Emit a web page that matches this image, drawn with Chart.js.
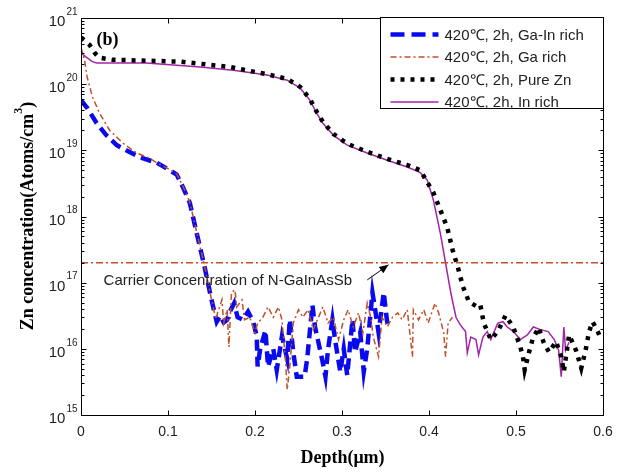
<!DOCTYPE html>
<html>
<head>
<meta charset="utf-8">
<script src="https://cdn.jsdelivr.net/npm/chart.js@4.4.0/dist/chart.umd.min.js"></script>
<style>
  html, body { margin: 0; padding: 0; background: #fff; }
</style>
</head>
<body>
<canvas id="zn-chart" width="625" height="472"></canvas>
<script>
//
// Zn diffusion depth profiles (420℃, 2h) for four source compositions.
//

const seriesLabels = ['420℃, 2h, Ga-In rich', '420℃, 2h, Ga rich', '420℃, 2h, Pure Zn', '420℃, 2h, In rich']

// Ga-In rich (blue dashed)
const gaInDepth = [0, 0.007, 0.018, 0.029, 0.041, 0.052, 0.067, 0.087, 0.102, 0.11, 0.117, 0.125, 0.133, 0.142, 0.15,
    0.156, 0.16, 0.164, 0.168, 0.171, 0.176, 0.18, 0.186, 0.192, 0.198, 0.202, 0.203, 0.206, 0.212, 0.215, 0.221,
    0.225, 0.231, 0.237, 0.24, 0.244, 0.248, 0.252, 0.257, 0.26, 0.266, 0.269, 0.273, 0.277, 0.281, 0.284, 0.289,
    0.292, 0.298, 0.302, 0.306, 0.312, 0.315, 0.321, 0.325, 0.329, 0.335, 0.338, 0.342, 0.348, 0.351, 0.353]
const gaInConc = [5.75e19, 4.4e19, 2.57e19, 1.7e19, 1.2e19, 1.0e19, 7.9e18, 6.5e18, 5.0e18, 4.3e18, 2.8e18, 1.62e18, 5.6e17, 1.74e17, 5.5e16,
    2.57e16, 3.16e16, 2.51e16, 2.75e16, 3.63e16, 4.9e16, 3.0e16, 2.75e16, 3.63e16, 2.57e16, 1.55e16, 5.4e15, 1.0e16, 1.9e16, 5.4e15, 1.0e16,
    4.8e15, 1.55e16, 7.1e15, 2.75e16, 8.9e15, 3.8e15, 3.8e15, 3.8e15, 7.1e15, 4.6e16, 2.14e16, 1.23e16, 7.1e15, 3.8e15, 1.0e16, 2.75e16,
    1.38e16, 4.5e15, 1.0e16, 4.0e15, 2.75e16, 8.9e15, 1.78e16, 4.5e15, 1.0e16, 7.1e16, 4.0e16, 1.78e16, 7.1e16, 3.16e16, 2.0e16]

// Ga rich (brown dash-dot)
const gaDepth = [0, 0.004, 0.007, 0.013, 0.021, 0.033, 0.048, 0.064, 0.079, 0.087, 0.102, 0.11, 0.117, 0.125, 0.133, 0.142, 0.15, 0.155,
    0.157, 0.162, 0.164, 0.168, 0.17, 0.173, 0.177, 0.179, 0.185, 0.188, 0.194, 0.2, 0.203, 0.209, 0.215, 0.221, 0.227, 0.231,
    0.235, 0.237, 0.24, 0.244, 0.25, 0.255, 0.261, 0.267, 0.273, 0.278, 0.284, 0.29, 0.296, 0.302, 0.307, 0.313, 0.319, 0.324,
    0.329, 0.333, 0.336, 0.342, 0.346, 0.352, 0.358, 0.364, 0.369, 0.375, 0.381, 0.382, 0.388, 0.394, 0.399, 0.407, 0.411, 0.417,
    0.419, 0.422, 0.427]
const gaConc = [3.6e20, 2.34e20, 1.29e20, 6.5e19, 3.7e19, 2.0e19, 1.29e19, 9.1e18, 7.6e18, 6.5e18, 5.1e18, 4.4e18, 2.9e18, 1.66e18, 5.8e17, 1.78e17, 5.6e16, 2.8e16,
    3.5e16, 5.5e16, 2.45e16, 3.9e16, 1.07e16, 7.1e16, 7.8e16, 4.3e16, 5.5e16, 2.75e16, 3.0e16, 1.74e16, 2.45e16, 3.0e16, 4.3e16, 3.0e16, 4.3e16, 2.75e16,
    6.8e15, 2.4e15, 5.4e15, 2.45e16, 3.9e16, 3.0e16, 3.9e16, 1.95e16, 3.0e16, 4.3e16, 2.45e16, 3.0e16, 1.38e16, 2.75e16, 3.9e16, 2.14e16, 3.5e16, 1.74e16,
    4.9e16, 3.0e16, 1.51e16, 7.6e15, 3.0e16, 2.14e16, 3.0e16, 3.5e16, 2.75e16, 3.9e16, 7.6e15, 3.9e16, 2.75e16, 3.9e16, 2.45e16, 4.9e16, 3.5e16, 1.74e16,
    7.6e15, 2.45e16, 3.0e16]

// Pure Zn (black dotted)
const pureZnDepth = [0, 0.01, 0.016, 0.021, 0.036, 0.114, 0.171, 0.214, 0.237, 0.252, 0.263, 0.271, 0.278, 0.29, 0.306, 0.329, 0.352,
    0.375, 0.39, 0.398, 0.405, 0.413, 0.421, 0.427, 0.433, 0.439, 0.446, 0.456, 0.459, 0.463, 0.471, 0.479, 0.488, 0.497, 0.505,
    0.508, 0.51, 0.515, 0.519, 0.526, 0.532, 0.538, 0.546, 0.552, 0.555, 0.561, 0.569, 0.575, 0.58, 0.584, 0.588, 0.594, 0.598]
const pureZnConc = [5.1e20, 3.9e20, 2.95e20, 2.51e20, 2.34e20, 2.19e20, 1.82e20, 1.41e20, 1.2e20, 9.1e19, 6.0e19, 3.8e19, 2.7e19, 1.78e19, 1.26e19, 9.5e18, 7.4e18,
    6.0e18, 5.0e18, 3.3e18, 2.3e18, 1.26e18, 6.8e17, 3.16e17, 1.74e17, 8.7e16, 5.1e16, 4.3e16, 4.6e16, 2.45e16, 1.38e16, 1.82e16, 3.2e16, 2.1e16, 1.07e16,
    7.6e15, 4.8e15, 8.9e15, 1.38e16, 2.1e16, 1.23e16, 8.9e15, 1.29e16, 7.6e15, 4.5e15, 1.62e16, 9.5e15, 5.1e15, 9.5e15, 1.82e16, 2.57e16, 1.82e16, 1.38e16]

// In rich (purple solid)
const inDepth = [0, 0.006, 0.013, 0.018, 0.075, 0.137, 0.175, 0.214, 0.237, 0.252, 0.263, 0.271, 0.278, 0.29, 0.306, 0.329, 0.352,
    0.375, 0.39, 0.398, 0.405, 0.413, 0.419, 0.425, 0.431, 0.436, 0.442, 0.444, 0.448, 0.454, 0.457, 0.462, 0.467, 0.471, 0.479,
    0.485, 0.49, 0.497, 0.505, 0.513, 0.52, 0.528, 0.537, 0.544, 0.549, 0.552, 0.555, 0.557, 0.561]
const inConc = [2.95e20, 2.57e20, 2.19e20, 2.09e20, 2.09e20, 1.82e20, 1.62e20, 1.38e20, 1.15e20, 8.7e19, 5.75e19, 3.63e19, 2.57e19, 1.7e19, 1.2e19, 9.1e18, 7.1e18,
    5.6e18, 4.6e18, 3.55e18, 1.78e18, 5.6e17, 2.0e17, 7.1e16, 3.0e16, 2.3e16, 1.82e16, 8.7e15, 1.51e16, 1.38e16, 8.1e15, 1.51e16, 1.82e16, 1.38e16, 2.45e16,
    2.57e16, 2.14e16, 1.82e16, 1.38e16, 1.62e16, 2.14e16, 1.95e16, 1.82e16, 1.38e16, 9.5e15, 3.8e15, 2.14e16, 9.5e15, 1.26e16]

// carrier concentration of the N-GaInAsSb layer
const carrierDepth = [0, 0.6]
const carrierConc = [2e17, 2e17]
const carrierText = 'Carrier Concentration of N-GaInAsSb'

// axes
const xTicks = [0, 0.1, 0.2, 0.3, 0.4, 0.5, 0.6]
const xTickLabels = ['0', '0.1', '0.2', '0.3', '0.4', '0.5', '0.6']
const yTicks = [1e15, 1e16, 1e17, 1e18, 1e19, 1e20, 1e21]
const yTickExps = ['15', '16', '17', '18', '19', '20', '21']

const toPoints = (xs, ys) => xs.map((d, i) => ({ x: d, y: ys[i] }))

const styles = [
    { color: '#0a0aee', width: 4.5, dash: [11, 6] },
    { color: '#c0502a', width: 1.5, dash: [6, 3, 2, 3] },
    { color: '#000000', width: 4.5, dash: [4, 6] },
    { color: '#a424a8', width: 1.5, dash: [] }
]

const SERIF = '"Times New Roman", "Liberation Serif", serif'
const SANS = 'Arial, "Liberation Sans", sans-serif'

// Frame, inward ticks, labels, titles, legend and the carrier note.
const axesDecor = {
    id: 'axesDecor',
    afterDraw(chart) {
        const { ctx, chartArea: a, scales: { x, y } } = chart
        const L = Math.round(a.left) + 0.5, R = Math.round(a.right) + 0.5
        const T = Math.round(a.top) + 0.5, B = Math.round(a.bottom) + 0.5
        ctx.save()
        ctx.strokeStyle = '#000'
        ctx.lineWidth = 1
        ctx.setLineDash([])
        ctx.strokeRect(L, T, R - L, B - T)

        // x ticks
        ctx.beginPath()
        for (const v of xTicks) {
            const px = Math.round(x.getPixelForValue(v)) + 0.5
            ctx.moveTo(px, B); ctx.lineTo(px, B - 5)
            ctx.moveTo(px, T); ctx.lineTo(px, T + 5)
        }
        // y ticks, majors and 2..9 minors
        yTicks.forEach((v, i) => {
            const py = Math.round(y.getPixelForValue(v)) + 0.5
            ctx.moveTo(L, py); ctx.lineTo(L + 5, py)
            ctx.moveTo(R, py); ctx.lineTo(R - 5, py)
            if (i === yTicks.length - 1) return
            for (let m = 2; m <= 9; m++) {
                const pm = Math.round(y.getPixelForValue(m * v)) + 0.5
                ctx.moveTo(L, pm); ctx.lineTo(L + 3, pm)
                ctx.moveTo(R, pm); ctx.lineTo(R - 3, pm)
            }
        })
        ctx.stroke()

        // tick labels
        ctx.fillStyle = '#222'
        ctx.font = '14px ' + SANS
        ctx.textAlign = 'center'
        ctx.textBaseline = 'middle'
        xTicks.forEach((v, i) => ctx.fillText(xTickLabels[i], x.getPixelForValue(v), B + 17))
        yTicks.forEach((v, i) => {
            const py = y.getPixelForValue(v)
            ctx.textAlign = 'right'
            ctx.font = '10px ' + SANS
            const ew = ctx.measureText(yTickExps[i]).width
            ctx.fillText(yTickExps[i], L - 4, py - 6)
            ctx.font = '15px ' + SANS
            ctx.fillText('10', L - 5 - ew, py + 4)
        })

        // axis titles
        ctx.fillStyle = '#000'
        ctx.font = 'bold 18px ' + SERIF
        ctx.textAlign = 'center'
        ctx.fillText('Depth(μm)', (L + R) / 2, B + 43)

        ctx.save()
        ctx.translate(28, 216)
        ctx.rotate(-Math.PI / 2)
        const t1 = 'Zn concentration(Atoms/cm', t2 = '3', t3 = ')'
        ctx.font = 'bold 18px ' + SERIF
        const w1 = ctx.measureText(t1).width, w3 = ctx.measureText(t3).width
        ctx.font = 'bold 12px ' + SERIF
        const w2 = ctx.measureText(t2).width
        let sx = -(w1 + w2 + w3) / 2
        ctx.textAlign = 'left'
        ctx.font = 'bold 18px ' + SERIF
        ctx.fillText(t1, sx, 0)
        ctx.font = 'bold 12px ' + SERIF
        ctx.fillText(t2, sx + w1, -9)
        ctx.font = 'bold 18px ' + SERIF
        ctx.fillText(t3, sx + w1 + w2, 0)
        ctx.restore()

        // panel tag
        ctx.font = 'bold 18px ' + SERIF
        ctx.textAlign = 'left'
        ctx.fillText('(b)', L + 15, T + 22)

        // carrier note and arrow
        ctx.fillStyle = '#222'
        ctx.font = '15px ' + SANS
        ctx.fillText(carrierText, x.getPixelForValue(0.026), y.getPixelForValue(1.07e17))
        const ax0 = x.getPixelForValue(0.329), ay0 = y.getPixelForValue(1.1e17)
        const ax1 = x.getPixelForValue(0.3535), ay1 = y.getPixelForValue(1.86e17)
        const ang = Math.atan2(ay1 - ay0, ax1 - ax0)
        ctx.strokeStyle = '#000'
        ctx.lineWidth = 1
        ctx.beginPath(); ctx.moveTo(ax0, ay0); ctx.lineTo(ax1, ay1); ctx.stroke()
        ctx.fillStyle = '#000'
        ctx.beginPath()
        ctx.moveTo(ax1, ay1)
        ctx.lineTo(ax1 - 10 * Math.cos(ang - 0.4), ay1 - 10 * Math.sin(ang - 0.4))
        ctx.lineTo(ax1 - 10 * Math.cos(ang + 0.4), ay1 - 10 * Math.sin(ang + 0.4))
        ctx.closePath(); ctx.fill()

        // legend box
        const bx = 380.5, by = T - 1, bw = R - bx, bh = 91
        ctx.fillStyle = '#fff'
        ctx.fillRect(bx, by, bw, bh)
        ctx.strokeStyle = '#000'
        ctx.strokeRect(bx, by, bw, bh)
        ctx.font = '15px ' + SANS
        ctx.textBaseline = 'middle'
        seriesLabels.forEach((lab, i) => {
            const ly = by + 17 + i * 22.5
            const s = styles[i]
            ctx.strokeStyle = s.color
            ctx.lineWidth = s.width
            ctx.lineCap = 'butt'
            ctx.setLineDash(i === 0 ? [14, 7] : s.dash)
            ctx.beginPath(); ctx.moveTo(bx + 10, ly); ctx.lineTo(bx + 58, ly); ctx.stroke()
            ctx.setLineDash([])
            ctx.fillStyle = '#222'
            ctx.fillText(lab, bx + 64, ly + 1)
        })
        ctx.restore()
    }
}

const ctx = document.getElementById('zn-chart').getContext('2d')
new Chart(ctx, {
    type: 'line',
    data: {
        datasets: [
            { label: seriesLabels[0], data: toPoints(gaInDepth, gaInConc), borderColor: styles[0].color,
              borderWidth: styles[0].width, borderDash: styles[0].dash, order: 3 },
            { label: seriesLabels[1], data: toPoints(gaDepth, gaConc), borderColor: styles[1].color,
              borderWidth: styles[1].width, borderDash: styles[1].dash, order: 1 },
            { label: seriesLabels[2], data: toPoints(pureZnDepth, pureZnConc), borderColor: styles[2].color,
              borderWidth: styles[2].width, borderDash: styles[2].dash, order: 2 },
            { label: seriesLabels[3], data: toPoints(inDepth, inConc), borderColor: styles[3].color,
              borderWidth: styles[3].width, order: 4 },
            { label: 'carrier', data: toPoints(carrierDepth, carrierConc), borderColor: styles[1].color,
              borderWidth: 1.5, borderDash: [7, 3, 2, 3], order: 0 }
        ]
    },
    options: {
        responsive: false,
        animation: false,
        layout: { padding: { left: 81, top: 18, right: 22, bottom: 57 } },
        elements: {
            point: { radius: 0 },
            line: { tension: 0, fill: false, borderCapStyle: 'butt' }
        },
        scales: {
            x: { type: 'linear', min: 0, max: 0.6, display: false },
            y: { type: 'logarithmic', min: 1e15, max: 1e21, display: false }
        },
        plugins: { legend: { display: false }, tooltip: { enabled: false } }
    },
    plugins: [axesDecor]
})
</script>
</body>
</html>
